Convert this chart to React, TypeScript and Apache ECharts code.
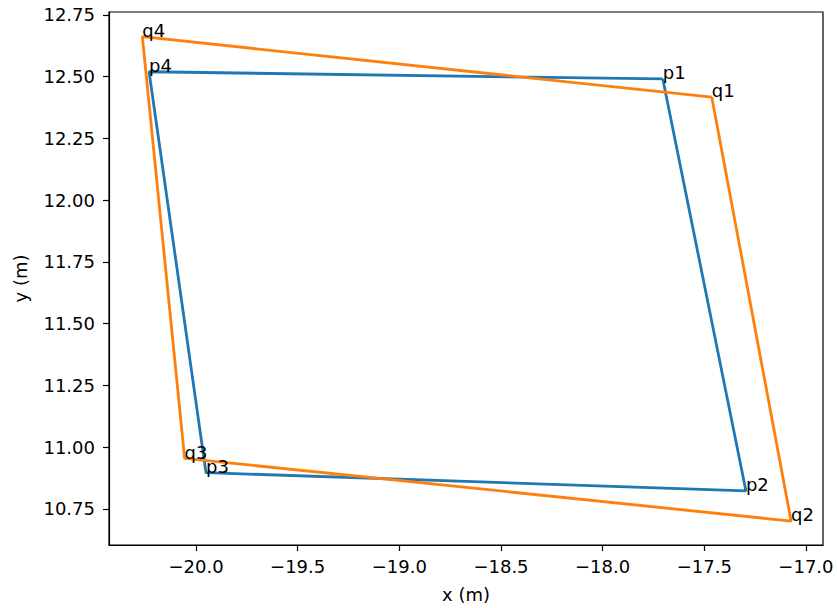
import React, { useEffect, useRef } from "react";
import * as echarts from "echarts";

const pNames = ["p1", "p2", "p3", "p4"];
const pX = [-17.704, -17.295, -19.951, -20.231];
const pY = [12.491, 10.823, 10.897, 12.52];
const qNames = ["q1", "q2", "q3", "q4"];
const qX = [-17.463, -17.073, -20.056, -20.264];
const qY = [12.417, 10.701, 10.955, 12.662];
const xTicks = [-20.0, -19.5, -19.0, -18.5, -18.0, -17.5, -17.0];
const yTicks = [10.75, 11.0, 11.25, 11.5, 11.75, 12.0, 12.25, 12.5, 12.75];

const FS = 18;
const FONT = "DejaVu Sans";

function closed(names: string[], xs: number[], ys: number[]) {
  const pts = names.map((n, i) => ({ value: [xs[i], ys[i]], name: n }));
  return [...pts, { value: [xs[0], ys[0]], name: "" }];
}

export default function App() {
  const ref = useRef<HTMLDivElement>(null);
  useEffect(() => {
    if (!ref.current) return;
    const chart = echarts.init(ref.current, undefined, { renderer: "svg" });
    const fmt = (v: number) => (v < 0 ? "\u2212" + Math.abs(v).toFixed(1) : v.toFixed(1));
    const labelCfg = {
      show: true,
      position: [0, 0] as any,
      align: "left",
      verticalAlign: "middle",
      offset: [0, -0.35 * FS],
      fontFamily: FONT,
      fontSize: FS,
      color: "#000",
      formatter: (p: any) => p.name,
    };
    const mk = (name: string, color: string, data: any[]) => ({
      type: "line",
      name,
      data,
      symbol: "circle",
      symbolSize: 0.01,
      showSymbol: true,
      lineStyle: { color, width: 2.8 },
      itemStyle: { color },
      label: labelCfg,
      z: 2,
    });
    chart.setOption({
      animation: false,
      backgroundColor: "#fff",
      grid: {
        left: 109,
        top: 12,
        right: 14,
        bottom: 63,
        show: true,
        borderColor: "#000",
        borderWidth: 1.2,
        backgroundColor: "transparent",
      },
      xAxis: {
        type: "value",
        min: -20.428,
        max: -16.916,
        name: "x (m)",
        nameLocation: "middle",
        nameGap: 40,
        nameTextStyle: { fontFamily: FONT, fontSize: FS, color: "#000" },
        splitLine: { show: false },
        axisLine: { show: true, onZero: false, lineStyle: { color: "#000", width: 1.2 } },
        axisTick: { show: true, length: 6, customValues: xTicks, lineStyle: { color: "#000", width: 1.2 } },
        axisLabel: {
          customValues: xTicks,
          margin: 12,
          fontFamily: FONT,
          fontSize: FS,
          color: "#000",
          formatter: fmt,
        },
      },
      yAxis: {
        type: "value",
        min: 10.604,
        max: 12.762,
        name: "y (m)",
        nameLocation: "middle",
        nameGap: 80,
        nameRotate: 90,
        nameTextStyle: { fontFamily: FONT, fontSize: FS, color: "#000" },
        splitLine: { show: false },
        axisLine: { show: true, onZero: false, lineStyle: { color: "#000", width: 1.2 } },
        axisTick: { show: true, length: 6, customValues: yTicks, lineStyle: { color: "#000", width: 1.2 } },
        axisLabel: {
          customValues: yTicks,
          margin: 14,
          fontFamily: FONT,
          fontSize: FS,
          color: "#000",
          formatter: (v: number) => v.toFixed(2),
        },
      },
      series: [
        mk("p", "#1f77b4", closed(pNames, pX, pY)),
        mk("q", "#ff7f0e", closed(qNames, qX, qY)),
      ],
    });
    return () => chart.dispose();
  }, []);
  return (
    <div
      ref={ref}
      style={{ position: "fixed", left: 0, top: 0, width: 837, height: 608, background: "#fff" }}
    />
  );
}
